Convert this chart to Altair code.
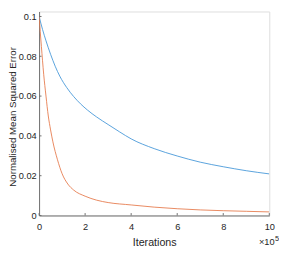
import altair as alt
import pandas as pd

# Iterations in units of 1e5
blue_x = [0, 0.15, 0.3, 0.5, 0.7, 0.9, 1.2, 1.5, 1.8, 2.1, 2.5, 3, 3.5, 4, 5, 6, 7, 8, 9, 10]
blue_y = [0.1, 0.0935, 0.0878, 0.081, 0.075, 0.0700, 0.0643, 0.0598, 0.0561, 0.0530,
          0.0495, 0.0457, 0.0420, 0.0385, 0.0336, 0.0299, 0.0268, 0.0245, 0.0225, 0.0209]

orange_x = [0, 0.1, 0.2, 0.3, 0.4, 0.5, 0.6, 0.8, 1.0, 1.25, 1.5, 2, 2.5, 3, 4, 5, 6, 7, 8, 9, 10]
orange_y = [0.1, 0.085, 0.071, 0.060, 0.050, 0.043, 0.037, 0.028, 0.021, 0.0158, 0.0128,
            0.0097, 0.0077, 0.0065, 0.0053, 0.0042, 0.0034, 0.0028, 0.0024, 0.0021, 0.0018]

x_ticks = [0, 2, 4, 6, 8, 10]
y_ticks = [0, 0.02, 0.04, 0.06, 0.08, 0.1]

series_names = ["blue", "orange"]
series_colors = ["#4497d8", "#e67a4c"]

W, H = 237, 210
FONT = "Liberation Sans"
TEXT = "#262626"
AXC = "#6e6e6e"

df = pd.concat([
    pd.DataFrame({"x": blue_x, "y": blue_y, "s": "blue"}),
    pd.DataFrame({"x": orange_x, "y": orange_y, "s": "orange"}),
])

xscale = alt.Scale(domain=[0, 10], nice=False, zero=False)
yscale = alt.Scale(domain=[0, 0.1025], nice=False, zero=False)

lines = alt.Chart(df).mark_line(strokeWidth=0.9, clip=True, interpolate="monotone").encode(
    x=alt.X("x:Q", scale=xscale, axis=alt.Axis(
        values=x_ticks, ticks=False, grid=False, labelPadding=6,
        labelFontSize=9.5, labelColor=TEXT, labelFont=FONT,
        title="Iterations", titleFontSize=11, titleFont=FONT, titleColor=TEXT,
        titleFontWeight="normal", titleBaseline="alphabetic", titleY=30.5,
        domainColor=AXC, domainWidth=1, labelFlush=False)),
    y=alt.Y("y:Q", scale=yscale, axis=alt.Axis(
        values=y_ticks, ticks=False, grid=False, labelPadding=3,
        labelFontSize=9.5, labelColor=TEXT, labelFont=FONT,
        labelExpr="datum.value == 0 ? '0' : format(datum.value, '.2~f')",
        title="Normalised Mean Squared Error", titleFontSize=10, titleFont=FONT,
        titleColor=TEXT, titleFontWeight="normal", titleBaseline="alphabetic",
        titleAngle=270, titleX=-24.5, titleY=108, titleAnchor="middle",
        domainColor=AXC, domainWidth=1, labelFlush=False)),
    color=alt.Color("s:N", scale=alt.Scale(domain=series_names, range=series_colors), legend=None),
    detail="s:N",
)

xt = alt.Chart(pd.DataFrame({"x": x_ticks})).mark_rule(color=AXC, strokeWidth=1).encode(
    x=alt.X("x:Q", scale=xscale), y=alt.value(H), y2=alt.value(H - 2.5))
yt = alt.Chart(pd.DataFrame({"y": y_ticks})).mark_rule(color=AXC, strokeWidth=1).encode(
    y=alt.Y("y:Q", scale=yscale), x=alt.value(0), x2=alt.value(2.5))

exp_base = alt.Chart(pd.DataFrame({"t": ["×10"]})).mark_text(
    font=FONT, fontSize=9.5, color=TEXT, align="right", baseline="alphabetic").encode(
    text="t:N", x=alt.value(242.5), y=alt.value(240.3))
exp_pow = alt.Chart(pd.DataFrame({"t": ["5"]})).mark_text(
    font=FONT, fontSize=7.5, color=TEXT, align="left", baseline="alphabetic").encode(
    text="t:N", x=alt.value(242.8), y=alt.value(236))

chart = alt.layer(lines, xt, yt, exp_base, exp_pow).properties(
    width=W, height=H,
    autosize=alt.AutoSizeParams(type="none"),
    padding={"left": 32, "top": 0, "right": 10, "bottom": 35},
).configure_view(stroke=None).configure(background="white")

chart.save("out.html", embed_options={"renderer": "svg", "actions": False})
